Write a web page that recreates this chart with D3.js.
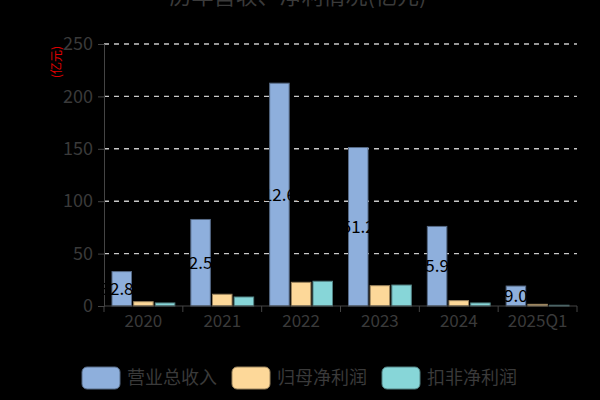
<!DOCTYPE html>
<html>
<head>
<meta charset="utf-8">
<script src="https://cdn.jsdelivr.net/npm/d3@7/dist/d3.min.js"></script>
<style>
  html, body { margin: 0; padding: 0; background: #000; }
  svg { display: block; font-family: "Noto Sans CJK SC", "Noto Sans", sans-serif; }
</style>
</head>
<body>
<svg id="chart" width="600" height="400"></svg>
<script>
// Chart data
var years = ["2020", "2021", "2022", "2023", "2024", "2025Q1"];
var seriesNames = ["营业总收入", "归母净利润", "扣非净利润"];
var revenue = [32.83, 82.57, 212.61, 151.23, 75.93, 19.03];   // 营业总收入
var netProfit = [4.1, 11.2, 22.6, 19.4, 5.1, 1.6];            // 归母净利润
var deductedProfit = [2.9, 8.6, 23.6, 20.0, 2.9, 0.7];        // 扣非净利润
var yTicks = [0, 50, 100, 150, 200, 250];
var colors = ["#8eafdc", "#fdd899", "#87d6d8"];

var titleText = "历年营收、净利情况(亿元)";
var unitText = "(亿元)";

var svg = d3.select("#chart");
// plot area (note: "top" is a reserved window property, so use other names)
var plotL = 104, plotR = 577, plotT = 44, plotB = 306;

var x = d3.scaleBand().domain(years).range([plotL, plotR]);
var xs = d3.scaleBand().domain(seriesNames).paddingInner(0.1);
var y = d3.scaleLinear().domain([0, 250]).range([plotB, plotT]);

var allSeries = [revenue, netProfit, deductedProfit];

// title (mostly above the picture)
svg.append("text")
  .attr("x", 298).attr("y", 4)
  .attr("text-anchor", "middle")
  .attr("fill", "#3a3a3a")
  .style("font-size", "22px")
  .text(titleText);

// gridlines
svg.append("g").selectAll("line").data(yTicks.filter(function (d) { return d > 0; }))
  .enter().append("line")
  .attr("x1", plotL).attr("x2", plotR)
  .attr("y1", function (d) { return y(d); })
  .attr("y2", function (d) { return y(d); })
  .attr("stroke", "#c8c8c8")
  .attr("stroke-width", 1.4)
  .attr("stroke-dasharray", "5,5");

// y axis
var yAxis = svg.append("g")
  .attr("transform", "translate(" + plotL + ",0)")
  .call(d3.axisLeft(y).tickValues(yTicks).tickSize(6).tickPadding(5));
yAxis.select(".domain").attr("stroke", "#444");
yAxis.selectAll(".tick line").attr("stroke", "#444");
yAxis.selectAll(".tick text").attr("fill", "#3a3a3a")
  .style("font-size", "18px").style("font-family", "\"Noto Sans CJK SC\", sans-serif");

// unit label
svg.append("text")
  .attr("transform", "translate(61,62) rotate(-90)")
  .attr("text-anchor", "middle")
  .attr("fill", "#e00000")
  .style("font-size", "12px")
  .text(unitText);

// bars
var groups = svg.append("g").selectAll("g").data(years)
  .enter().append("g")
  .attr("transform", function (d) { return "translate(" + x(d) + ",0)"; });

xs.range([8, x.bandwidth() - 8]);

groups.each(function (yr, i) {
  var g = d3.select(this);
  seriesNames.forEach(function (s, k) {
    var v = allSeries[k][i];
    g.append("rect")
      .attr("x", xs(s))
      .attr("y", y(v))
      .attr("width", xs.bandwidth())
      .attr("height", plotB - y(v))
      .attr("fill", colors[k])
      .attr("stroke", d3.color(colors[k]).darker(1.4))
      .attr("stroke-width", 1);
  });
});

// value labels on revenue bars (black text, only readable over the bar)
groups.append("text")
  .attr("x", function () { return xs(seriesNames[0]) + xs.bandwidth() / 2; })
  .attr("y", function (d, i) { return (y(revenue[i]) + plotB) / 2; })
  .attr("dy", "0.35em")
  .attr("text-anchor", "middle")
  .attr("fill", "#000")
  .style("font-size", "17px")
  .text(function (d, i) { return revenue[i].toFixed(2); });

// x axis
var xAxis = svg.append("g")
  .attr("transform", "translate(0," + plotB + ")")
  .call(d3.axisBottom(x).tickSize(0).tickPadding(9));
xAxis.select(".domain").attr("stroke", "#444").attr("d", "M" + plotL + ",0H" + plotR);
xAxis.selectAll(".tick text").attr("fill", "#3a3a3a")
  .style("font-size", "17px").style("font-family", "\"Noto Sans CJK SC\", sans-serif");
svg.append("g").selectAll("line").data(years.concat(["end"]))
  .enter().append("line")
  .attr("x1", function (d, i) { return plotL + i * x.step(); })
  .attr("x2", function (d, i) { return plotL + i * x.step(); })
  .attr("y1", plotB).attr("y2", plotB + 6)
  .attr("stroke", "#444");

// legend
var legend = svg.append("g").selectAll("g").data(seriesNames)
  .enter().append("g")
  .attr("transform", function (d, i) { return "translate(" + (82 + i * 150) + ",367)"; });
legend.append("rect")
  .attr("width", 38).attr("height", 22).attr("rx", 5)
  .attr("fill", function (d, i) { return colors[i]; })
  .attr("stroke", function (d, i) { return d3.color(colors[i]).darker(1.4); });
legend.append("text")
  .attr("x", 45).attr("y", 11).attr("dy", "0.35em")
  .attr("fill", "#3a3a3a")
  .style("font-size", "18px")
  .text(function (d) { return d; });
</script>
</body>
</html>
